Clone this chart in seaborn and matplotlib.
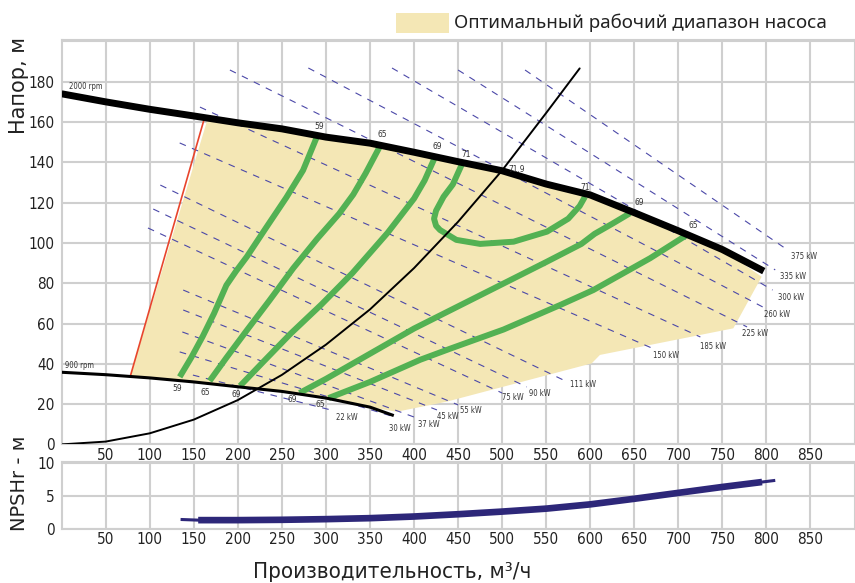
import matplotlib
matplotlib.use("Agg")
import matplotlib.pyplot as plt
import seaborn as sns
from matplotlib import font_manager
from matplotlib.patches import Rectangle

# ---- head curves at the speed limits (flow m3/h, head m) ----
q_2000 = [0, 50, 100, 150, 200, 250, 300, 350, 400, 450, 500, 550, 600, 650, 700, 750, 797]
h_2000 = [174, 170, 166.3, 163, 159.6, 156.6, 152.5, 149.5, 145, 140.3, 135.8, 129.2, 123.8, 115, 106, 96.7, 86]
q_900 = [0, 50, 100, 150, 200, 250, 300, 350, 377]
h_900 = [35.8, 34.6, 33, 31, 28.6, 26.3, 23, 18.5, 14.3]

# ---- system curve ----
q_sys = [0, 50, 100, 150, 200, 250, 300, 350, 400, 450, 500, 550, 588]
h_sys = [0, 1.4, 5.5, 12.3, 22, 34.5, 49.5, 67, 87.5, 110.5, 136, 164.5, 186.6]

# ---- minimum flow limit ----
q_min = [78, 162]
h_min = [33.9, 161.8]

# ---- optimal operating range: right / lower boundary ----
q_opt_edge = [794.6, 762.4, 611, 601.6, 437, 380.3]
h_opt_edge = [83.2, 57.6, 44.4, 40.2, 21.2, 16.2]

# ---- efficiency curves, % ----
eff59_q = [134, 147, 160, 173, 187, 198, 210, 232, 255, 274, 289.6]
eff59_h = [33.5, 43, 53.5, 65, 79, 86, 93, 107.5, 122.5, 136, 152.5]
eff65a_q = [168, 187, 210, 236, 263, 290, 315, 331, 345, 361]
eff65a_h = [31.5, 43, 56.5, 71.5, 87.5, 102, 114.5, 124, 134.5, 147.7]
eff69a_q = [202.5, 230, 260, 295, 330, 370, 400, 412, 423]
eff69a_h = [29, 41.5, 55, 69.5, 85, 105, 122, 131, 141.8]
eff71_q = [454, 444, 433.5, 425, 422.7, 425, 429.5, 448, 475, 513, 551, 575, 588, 594]
eff71_h = [138.7, 129, 122.9, 116, 112, 108.5, 106.4, 101.5, 99.5, 100.6, 105.6, 112, 118.3, 122.9]
eff69b_q = [270, 300, 350, 400, 450, 500, 550, 570, 590, 605, 625, 645]
eff69b_h = [25.5, 32.5, 45, 57.5, 68.5, 79.5, 90.5, 95, 99.5, 104.5, 109.5, 114.7]
eff65b_q = [303, 350, 407, 441, 501.5, 566, 603.5, 668, 709.5]
eff65b_h = [23, 31, 42, 47.5, 57, 69.2, 76.6, 92.4, 103.9]
bep_q, bep_h, bep_label = 498, 135.5, "71.9"

# ---- constant shaft power lines, kW ----
power_kw = [22, 30, 37, 45, 55, 75, 90, 111, 150, 185, 225, 260, 300, 335, 375]
pw_q0 = [149, 134, 137, 138, 138, 98, 104, 112, 134, 157, 191, 280, 375, 450, 526]
pw_h0 = [34.4, 45.9, 55.8, 66.7, 76.6, 107.4, 116.8, 128.7, 149.6, 167.4, 185.8, 186.8, 186.8, 185.8, 185.8]
pw_q1 = [310, 378, 403, 426, 450, 500, 528, 574, 670, 725, 778, 798, 807, 810, 824]
pw_h1 = [16.6, 13.6, 13.1, 17.1, 19.6, 25.5, 28.5, 31, 47.8, 53.3, 58.3, 67.7, 76.6, 86.6, 96.5]

# ---- NPSHr ----
q_npsh = [135, 155, 200, 250, 300, 350, 400, 450, 500, 550, 600, 650, 700, 750, 795, 810]
npsh_r = [1.45, 1.35, 1.35, 1.4, 1.5, 1.65, 1.9, 2.25, 2.65, 3.1, 3.75, 4.6, 5.5, 6.4, 7.15, 7.4]

x_ticks = list(range(50, 851, 50))
y_ticks = list(range(0, 201, 20))
y_tick_labels = [str(v) if v < 200 else "" for v in y_ticks]
npsh_ticks = [0, 5, 10]

YELLOW = "#f4e7b5"
GREEN = "#53b153"
POWER = "#4b48a8"
NPSH_C = "#2d2779"
RED = "#e8452c"
GRID = "#cfcfcf"
TXT = "#222222"
SMALL = "#333333"

sns.set_theme(style="whitegrid")
plt.rcParams["font.family"] = ["DejaVu Sans"]
has_condensed = any(f.name == "DejaVu Sans" and str(f.stretch) in ("condensed", "semi-condensed", "500", "600")
                    for f in font_manager.fontManager.ttflist)
NARROW = "condensed" if has_condensed else "normal"
plt.rcParams["font.stretch"] = NARROW
plt.rcParams["axes.edgecolor"] = GRID
plt.rcParams["grid.color"] = GRID

W, H = 855, 583
fig = plt.figure(figsize=(W / 100, H / 100), dpi=100)
fig.patch.set_facecolor("white")

px_x, px_y = 0.881, 2.015
x0_px, y0_px = 61.64, 444.4
ax = fig.add_axes([x0_px / W, 1 - y0_px / H, 900 * px_x / W, 200.5 * px_y / H])
ax.set_xlim(0, 900)
ax.set_ylim(0, 200.5)

# optimal range
poly_q = [q_min[0], 165] + [q for q in q_2000 if 165 < q < 795] + q_opt_edge \
    + [q for q in reversed(q_900) if q_min[0] < q <= 350]
poly_h = [h_min[0], 160.5] + [h for q, h in zip(q_2000, h_2000) if 165 < q < 795] + h_opt_edge \
    + [h for q, h in zip(reversed(q_900), reversed(h_900)) if q_min[0] < q <= 350]
ax.fill(poly_q, poly_h, color=YELLOW, lw=0, zorder=1)

# power lines with their labels just past the lower end
kw_offsets = [(9, -4.5), (4, -8), (9, -5), (8, -5), (9, -4), (8, -3.5), (9, -4.5), (11, -2),
              (10, -5), (9, -7), (6, -5), (9, -5), (13, -5.5), (13, -5), (12, -4.5)]
for kw, a, b, c, d, off in zip(power_kw, pw_q0, pw_h0, pw_q1, pw_h1, kw_offsets):
    sns.lineplot(x=[a, c], y=[b, d], ax=ax, color=POWER, linewidth=0.8,
                 linestyle=(0, (6, 6)), sort=False, estimator=None, zorder=3)
    ax.annotate(f"{kw} kW", (c, d), xytext=off, textcoords="offset points",
                ha="center", va="center", fontsize=5.5, color=SMALL, zorder=6)

# efficiency curves
eff_curves = [(eff59_q, eff59_h), (eff65a_q, eff65a_h), (eff69a_q, eff69a_h), (eff71_q, eff71_h),
              (eff69b_q, eff69b_h), (eff65b_q, eff65b_h)]
for qq, hh in eff_curves:
    sns.lineplot(x=qq, y=hh, ax=ax, color=GREEN, linewidth=4.3, sort=False,
                 estimator=None, zorder=4, solid_capstyle="butt", solid_joinstyle="round")

# labels at the upper and lower ends of the efficiency curves
top_ends = [(eff59_q[-1], eff59_h[-1], "59", (2, 8)), (eff65a_q[-1], eff65a_h[-1], "65", (2, 8.5)),
            (eff69a_q[-1], eff69a_h[-1], "69", (2, 9)), (eff71_q[0], eff71_h[0], "71", (3, 7.5)),
            (eff71_q[-1], eff71_h[-1], "71", (0, 7)), (eff69b_q[-1], eff69b_h[-1], "69", (6.5, 7.5)),
            (eff65b_q[-1], eff65b_h[-1], "65", (5, 7))]
bottom_ends = [(eff59_q[0], eff59_h[0], "59", (-2, -8.5)), (eff65a_q[0], eff65a_h[0], "65", (-3, -8)),
               (eff69a_q[0], eff69a_h[0], "69", (-2.5, -6)), (eff69b_q[0], eff69b_h[0], "69", (-5.5, -4.5)),
               (eff65b_q[0], eff65b_h[0], "65", (-6, -5))]
for q, h, s, off in top_ends + bottom_ends:
    ax.annotate(s, (q, h), xytext=off, textcoords="offset points", ha="center", va="center",
                fontsize=6, color=SMALL, zorder=6)
ax.annotate(bep_label, (bep_q, bep_h), xytext=(12, 1.5), textcoords="offset points",
            ha="center", va="center", fontsize=6, color=SMALL, zorder=6)

# system curve, speed limits, minimum flow
sns.lineplot(x=q_sys, y=h_sys, ax=ax, color="black", linewidth=1.4, sort=False, estimator=None, zorder=5)
sns.lineplot(x=q_min, y=h_min, ax=ax, color=RED, linewidth=1.2, sort=False, estimator=None, zorder=5)
sns.lineplot(x=q_900, y=h_900, ax=ax, color="black", linewidth=2.2, sort=False, estimator=None,
             zorder=5, solid_capstyle="butt")
sns.lineplot(x=q_2000, y=h_2000, ax=ax, color="black", linewidth=5.0, sort=False, estimator=None,
             zorder=5, solid_capstyle="butt")
ax.annotate("2000 rpm", (q_2000[0], h_2000[0]), xytext=(17, 5), textcoords="offset points",
            ha="center", va="center", fontsize=5.5, color=SMALL)
ax.annotate("900 rpm", (q_900[0], h_900[0]), xytext=(13, 5), textcoords="offset points",
            ha="center", va="center", fontsize=5.5, color=SMALL)

tick_size = 11 if has_condensed else 10
ax.set_xticks(x_ticks)
ax.set_yticks(y_ticks)
ax.set_yticklabels(y_tick_labels)
ax.tick_params(axis="both", length=0, labelsize=tick_size, colors=TXT, pad=2.5)
ax.tick_params(axis="y", pad=5)
ax.grid(True, color=GRID, linewidth=1.5)
ax.set_xlabel("")
ax.set_ylabel("")
for s in ax.spines.values():
    s.set_color(GRID)
    s.set_linewidth(1.5)

# ---- NPSHr panel ----
ax2 = fig.add_axes([x0_px / W, 1 - 529 / H, 900 * px_x / W, 10.2 * 6.57 / H])
ax2.set_xlim(0, 900)
ax2.set_ylim(0, 10.2)
sns.lineplot(x=q_npsh, y=npsh_r, ax=ax2, color=NPSH_C, linewidth=2.2, sort=False, estimator=None,
             zorder=3, solid_capstyle="butt")
sns.lineplot(x=q_npsh[1:-1], y=npsh_r[1:-1], ax=ax2, color=NPSH_C, linewidth=4.8, sort=False,
             estimator=None, zorder=4, solid_capstyle="butt")
ax2.set_xticks(x_ticks)
ax2.set_yticks(npsh_ticks)
ax2.tick_params(axis="both", length=0, labelsize=tick_size, colors=TXT, pad=2.5)
ax2.tick_params(axis="y", pad=5)
ax2.grid(True, color=GRID, linewidth=1.5)
ax2.set_xlabel("")
ax2.set_ylabel("")
for s in ax2.spines.values():
    s.set_color(GRID)
    s.set_linewidth(1.5)

# ---- axis titles and legend ----
fig.text(19 / W, 1 - 85 / H, "Напор, м", rotation=90, ha="center", va="center",
         fontsize=15, color=TXT, fontstretch="normal")
fig.text(20 / W, 1 - 483 / H, "NPSHr - м", rotation=90, ha="center", va="center",
         fontsize=14, color=TXT, fontstretch="normal")
fig.text(392 / W, 1 - 572 / H, "Производительность, м³/ч", ha="center", va="center",
         fontsize=16 if has_condensed else 14.5, color=TXT)
fig.patches.append(Rectangle((396 / W, 1 - 33 / H), 53 / W, 20 / H, transform=fig.transFigure,
                             facecolor=YELLOW, edgecolor="none"))
fig.text(454 / W, 1 - 23 / H, "Оптимальный рабочий диапазон насоса", ha="left", va="center",
         fontsize=13.5, color=TXT, family=["Noto Sans", "DejaVu Sans"], fontstretch="normal")

fig.savefig("out.png", dpi=100, facecolor="white")
